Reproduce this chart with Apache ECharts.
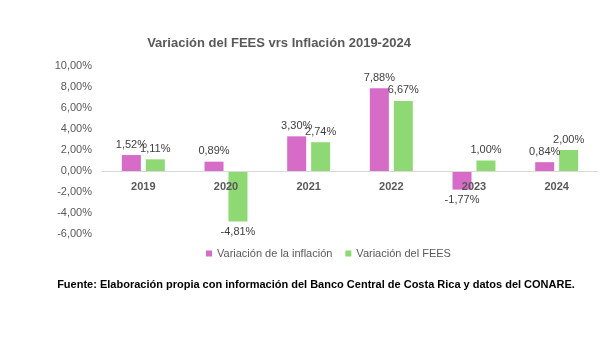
<!DOCTYPE html>
<html><head><meta charset="utf-8">
<script src="https://cdn.jsdelivr.net/npm/echarts@6/dist/echarts.min.js"></script>
<style>html,body{margin:0;padding:0;background:#fff}#c{width:606px;height:340px}</style>
</head><body><div id="c"></div>
<script>
const categories = ['2019','2020','2021','2022','2023','2024'];
const inflacion = [1.52, 0.89, 3.30, 7.88, -1.77, 0.84];
const fees = [1.11, -4.81, 2.74, 6.67, 1.00, 2.00];
const yTicks = {min: -6, max: 10, interval: 2};

const NF = '"Liberation Sans", Arial, sans-serif';
const fmt = v => v.toFixed(2).replace('.', ',') + '%';
function mk(vals){
  return vals.map(v => ({value: v, label: {position: v >= 0 ? 'top' : 'bottom'}}));
}
const gridTop = 66, gridBottom = 106, H = 340;
const plotH = H - gridTop - gridBottom;
const zeroOffset = -plotH * (0 - yTicks.min) / (yTicks.max - yTicks.min);

const chart = echarts.init(document.getElementById('c'), null, {renderer: 'canvas'});
chart.setOption({
  animation: false,
  backgroundColor: '#ffffff',
  title: [{
    text: 'Variación del FEES vrs Inflación 2019-2024',
    left: 274, top: 32, textAlign: 'center',
    textStyle: {fontFamily: NF, fontSize: 13, fontWeight: 'bold', color: '#595959'}
  },{
    text: 'Fuente: Elaboración propia con información del Banco Central de Costa Rica y datos del CONARE.',
    left: 311, top: 274, textAlign: 'center',
    textStyle: {fontFamily: NF, fontSize: 11, fontWeight: 'bold', color: '#000000'}
  }],
  legend: {
    left: 206, top: 248, padding: 0,
    icon: 'rect', itemWidth: 6, itemHeight: 6, itemGap: 13, itemStyle: {borderWidth: 0},
    textStyle: {fontFamily: NF, fontSize: 11, color: '#595959'},
    data: ['Variación de la inflación', 'Variación del FEES']
  },
  grid: {left: 102, right: 8, top: gridTop, bottom: gridBottom, containLabel: false},
  xAxis: {
    type: 'category', data: categories, position: 'bottom', offset: zeroOffset, z: 5,
    axisLine: {onZero: false, lineStyle: {color: '#d9d9d9', width: 1}},
    axisTick: {show: false},
    axisLabel: {fontFamily: NF, fontSize: 11, fontWeight: 'bold', color: '#595959', margin: 10}
  },
  yAxis: {
    type: 'value', min: yTicks.min, max: yTicks.max, interval: yTicks.interval,
    splitLine: {show: false}, axisLine: {show: false}, axisTick: {show: false},
    axisLabel: {fontFamily: NF, fontSize: 11, color: '#595959', margin: 10, formatter: v => fmt(v)}
  },
  series: [{
    name: 'Variación de la inflación', type: 'bar', data: mk(inflacion),
    barWidth: 19, barGap: '26%',
    itemStyle: {color: '#D66BC8'},
    label: {show: true, distance: 5, fontFamily: NF, fontSize: 11, color: '#404040', formatter: p => fmt(p.value)}
  },{
    name: 'Variación del FEES', type: 'bar', data: mk(fees),
    barWidth: 19,
    itemStyle: {color: '#8ED974'},
    label: {show: true, distance: 5, fontFamily: NF, fontSize: 11, color: '#404040', formatter: p => fmt(p.value)}
  }]
});
</script></body></html>
